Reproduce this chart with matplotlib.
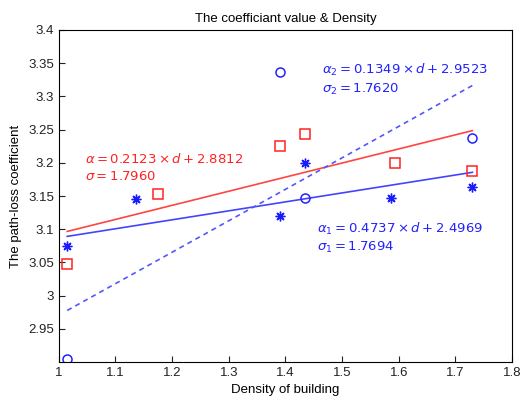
import numpy as np
import matplotlib.pyplot as plt

plt.rcParams['font.family'] = ['Liberation Sans', 'DejaVu Sans']

# Данные
sq_x = [1.015, 1.175, 1.39, 1.434, 1.594, 1.73]
sq_y = [3.047, 3.153, 3.226, 3.243, 3.200, 3.188]
st_x = [1.015, 1.137, 1.39, 1.434, 1.586, 1.73]
st_y = [3.075, 3.145, 3.120, 3.200, 3.147, 3.163]
ci_x = [1.015, 1.39, 1.434, 1.73]
ci_y = [2.905, 3.337, 3.147, 3.238]

d_range = [1.015, 1.73]
fit_red = (0.2123, 2.8812)
fit_solid = (0.1349, 2.9523)
fit_dash = (0.4737, 2.4969)

xticks = [1, 1.1, 1.2, 1.3, 1.4, 1.5, 1.6, 1.7, 1.8]
yticks = [2.95, 3, 3.05, 3.1, 3.15, 3.2, 3.25, 3.3, 3.35, 3.4]

fig = plt.figure(figsize=(5.29, 4.05), dpi=100)
ax = fig.add_axes([0.111, 0.106, 0.857, 0.820])

d = np.array(d_range)
ax.plot(d, fit_red[0] * d + fit_red[1], color='#ff4444', lw=1.2)
ax.plot(d, fit_solid[0] * d + fit_solid[1], color='#4444ff', lw=1.2)
ax.plot(d, fit_dash[0] * d + fit_dash[1], color='#5555ff', lw=1.2, ls=(0, (3, 2.5)))

ax.plot(sq_x, sq_y, 's', mfc='none', mec='#ff2222', ms=7, mew=1.1)
ax.plot(st_x, st_y, marker=(8, 2, 0), ls='none', color='#1a1aff', ms=7, mew=1.0)
ax.plot(ci_x, ci_y, 'o', mfc='none', mec='#2222ff', ms=6.5, mew=1.1)

fs = 9.5
ax.text(1.046, 3.205, r'$\alpha = 0.2123\times d + 2.8812$', color='#ff2222', fontsize=fs, va='center')
ax.text(1.046, 3.179, r'$\sigma = 1.7960$', color='#ff2222', fontsize=fs, va='center')
ax.text(1.455, 3.101, r'$\alpha_1 = 0.4737\times d + 2.4969$', color='#2222ff', fontsize=fs, va='center')
ax.text(1.455, 3.072, r'$\sigma_1 = 1.7694$', color='#2222ff', fontsize=fs, va='center')
ax.text(1.464, 3.340, r'$\alpha_2 = 0.1349\times d + 2.9523$', color='#2222ff', fontsize=fs, va='center')
ax.text(1.464, 3.311, r'$\sigma_2 = 1.7620$', color='#2222ff', fontsize=fs, va='center')

ax.set_xlim(1, 1.8)
ax.set_ylim(2.9, 3.4)
ax.set_xticks(xticks)
ax.set_xticklabels([f'{v:g}' for v in xticks])
ax.set_yticks(yticks)
ax.set_yticklabels([f'{v:g}' for v in yticks])
ax.tick_params(direction='in', labelsize=9.5, length=4, colors='#222222')
ax.set_xlabel('Density of building', fontsize=9.5)
ax.set_ylabel('The path-loss coefficient', fontsize=9.5)
ax.set_title('The coefficiant value & Density', fontsize=9.5)

fig.savefig('out.png')
